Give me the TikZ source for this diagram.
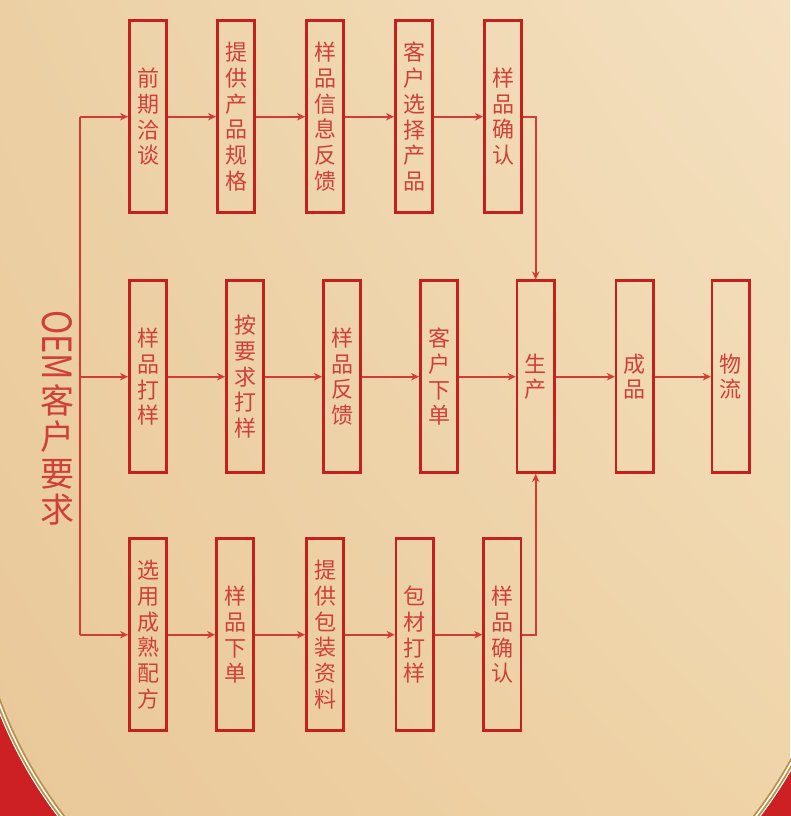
\documentclass[tikz,border=0pt]{standalone}
\usepackage{fontspec}
\usepackage{graphicx}
\newfontfamily\cjk{Noto Sans CJK SC}
\usetikzlibrary{arrows.meta,shadings}
\definecolor{boxred}{HTML}{C3201F}
\definecolor{linered}{HTML}{D23C36}
\definecolor{txtred}{HTML}{D0403A}
\definecolor{cornerred}{HTML}{CC2024}
\definecolor{goldline}{HTML}{B8904A}
\definecolor{bgul}{RGB}{236,208,164}
\definecolor{bgur}{RGB}{244,225,193}
\definecolor{bgll}{RGB}{233,200,153}
\definecolor{bglr}{RGB}{239,212,168}
\tikzset{
  stepbox/.style={draw=boxred, line width=2.6pt, minimum width=37.4pt, minimum height=192pt,
    inner sep=0pt, text=txtred, font=\cjk\fontsize{22}{25.8}\selectfont, align=center},
  conn/.style={draw=linered, line width=1.8pt},
  arr/.style={conn, -{Stealth[length=8pt,width=7.5pt]}}
}
\begin{document}
\begin{tikzpicture}[x=1pt,y=-1pt]
\useasboundingbox (0,0) rectangle (790,816);
% background
\shade[upper left=bgul, upper right=bgur, lower left=bgll, lower right=bglr]
  (0,0) rectangle (790,816);
\begin{scope}
  \clip (-5,550) rectangle (795,821);
  \fill[cornerred, even odd rule] (-10,480) rectangle (800,826) (409,550) circle[radius=441pt];
  \draw[white, line width=1pt] (409,550) circle[radius=440.5pt];
  \draw[goldline, line width=1.6pt] (409,550) circle[radius=439pt];
  \draw[white, line width=1.4pt] (409,550) circle[radius=437.2pt];
  \draw[goldline, line width=1.6pt] (409,550) circle[radius=435.5pt];
\end{scope}
% left label
\node[rotate=-90, text=txtred, font=\cjk, inner sep=0pt] (oem) at (57,345) {\resizebox{70pt}{30pt}{OEM}};
\node[text=txtred, font=\cjk\fontsize{34}{36.5}\selectfont, align=center, inner sep=0pt] (oemcn) at (57,455) {客\\户\\要\\求};
% top row
\node[stepbox] (t1) at (148,116.7) {前\\期\\洽\\谈};
\node[stepbox] (t2) at (236,116.7) {提\\供\\产\\品\\规\\格};
\node[stepbox] (t3) at (325,116.7) {样\\品\\信\\息\\反\\馈};
\node[stepbox] (t4) at (414,116.7) {客\\户\\选\\择\\产\\品};
\node[stepbox] (t5) at (503,116.7) {样\\品\\确\\认};
% middle row
\node[stepbox] (m1) at (148,376.7) {样\\品\\打\\样};
\node[stepbox] (m2) at (245,376.7) {按\\要\\求\\打\\样};
\node[stepbox] (m3) at (342,376.7) {样\\品\\反\\馈};
\node[stepbox] (m4) at (439,376.7) {客\\户\\下\\单};
\node[stepbox] (m5) at (535.7,376.7) {生\\产};
\node[stepbox] (m6) at (634.8,376.7) {成\\品};
\node[stepbox] (m7) at (730.8,376.7) {物\\流};
% bottom row
\node[stepbox] (b1) at (148,634.7) {选\\用\\成\\熟\\配\\方};
\node[stepbox] (b2) at (235,634.7) {样\\品\\下\\单};
\node[stepbox] (b3) at (325,634.7) {提\\供\\包\\装\\资\\料};
\node[stepbox] (b4) at (414.7,634.7) {包\\材\\打\\样};
\node[stepbox] (b5) at (502.2,634.7) {样\\品\\确\\认};
% spine
\coordinate (sp1) at (80,116.7);
\coordinate (sp2) at (80,376.7);
\coordinate (sp3) at (80,634.7);
\draw[conn] (sp1) -- (sp3);
\draw[arr] (sp1) -- (t1.west);
\draw[arr] (sp2) -- (m1.west);
\draw[arr] (sp3) -- (b1.west);
% top connectors
\draw[arr] (t1) -- (t2);
\draw[arr] (t2) -- (t3);
\draw[arr] (t3) -- (t4);
\draw[arr] (t4) -- (t5);
\draw[arr] (t5.east) -| (m5.north);
% middle connectors
\draw[arr] (m1) -- (m2);
\draw[arr] (m2) -- (m3);
\draw[arr] (m3) -- (m4);
\draw[arr] (m4) -- (m5);
\draw[arr] (m5) -- (m6);
\draw[arr] (m6) -- (m7);
% bottom connectors
\draw[arr] (b1) -- (b2);
\draw[arr] (b2) -- (b3);
\draw[arr] (b3) -- (b4);
\draw[arr] (b4) -- (b5);
\draw[arr] (b5.east) -| (m5.south);
\end{tikzpicture}
\end{document}
